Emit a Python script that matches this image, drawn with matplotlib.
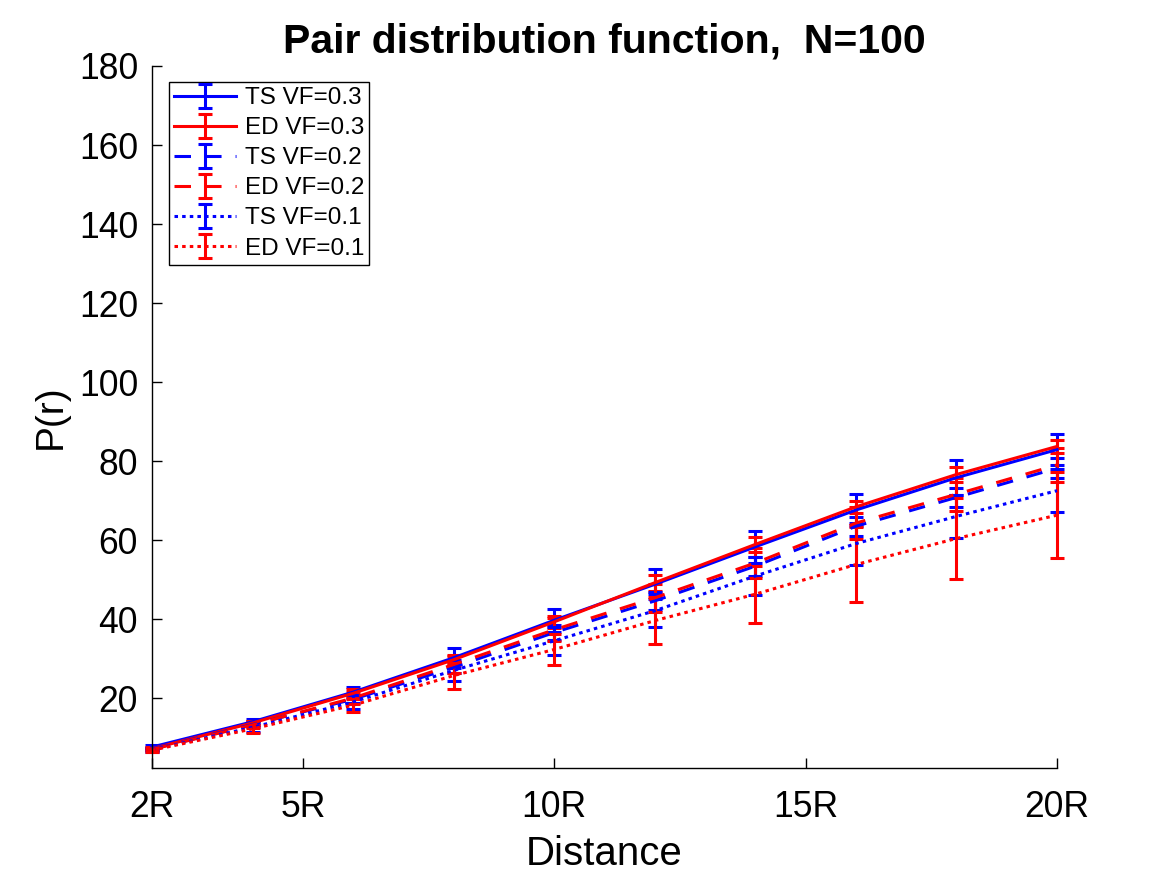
import matplotlib
matplotlib.use("Agg")
import matplotlib.pyplot as plt
import matplotlib.lines as mlines

plt.rcParams['font.family'] = ['Liberation Sans', 'DejaVu Sans']
plt.rcParams['xtick.direction'] = 'in'
plt.rcParams['ytick.direction'] = 'in'

# distance (in units of R) and P(r) per series
distance = [2, 4, 6, 8, 10, 12, 14, 16, 18, 20]
xtick_pos = [2, 5, 10, 15, 20]
xtick_labels = ['2R', '5R', '10R', '15R', '20R']
ytick_pos = [20, 40, 60, 80, 100, 120, 140, 160, 180]

ts_03 = [7.6, 14.0, 21.5, 30.2, 39.7, 48.8, 58.3, 67.6, 75.8, 82.9]
ed_03 = [7.2, 13.7, 21.2, 29.7, 39.3, 49.2, 58.9, 68.4, 76.6, 83.7]
ts_02 = [7.1, 13.3, 19.7, 27.8, 36.6, 44.6, 53.4, 63.5, 70.8, 78.2]
ed_02 = [7.0, 13.2, 20.0, 28.5, 37.3, 45.4, 54.2, 64.3, 71.6, 79.0]
ts_01 = [6.9, 12.6, 19.0, 27.0, 34.5, 42.1, 50.9, 59.1, 66.0, 72.5]
ed_01 = [6.8, 12.2, 18.2, 25.7, 32.3, 39.6, 46.3, 53.8, 60.4, 66.3]

ts_03_err = [0.4, 0.7, 1.4, 2.5, 2.9, 3.8, 4.0, 4.0, 4.5, 4.0]
ed_03_err = [0.3, 0.6, 1.0, 1.3, 1.5, 2.0, 1.8, 1.6, 1.8, 1.7]
ts_02_err = [0.3, 0.6, 1.0, 1.4, 1.8, 2.2, 2.4, 2.4, 2.5, 2.5]
ed_02_err = [0.4, 0.9, 1.5, 2.2, 2.9, 3.5, 3.9, 4.0, 4.2, 4.3]
ts_01_err = [0.5, 1.1, 1.8, 2.7, 3.5, 4.2, 4.8, 5.3, 5.5, 5.5]
ed_01_err = [0.5, 1.0, 1.6, 3.3, 4.0, 6.0, 7.2, 9.5, 10.3, 10.9]

labels = ['TS VF=0.3', 'ED VF=0.3', 'TS VF=0.2', 'ED VF=0.2', 'TS VF=0.1', 'ED VF=0.1']

lw = 2.2
dashed = (0, (5.4, 4.6))
dotted = (0, (1.15, 1.35))

series = [
    (ts_03, ts_03_err, 'blue', '-'),
    (ed_03, ed_03_err, 'red', '-'),
    (ts_02, ts_02_err, 'blue', dashed),
    (ed_02, ed_02_err, 'red', dashed),
    (ts_01, ts_01_err, 'blue', dotted),
    (ed_01, ed_01_err, 'red', dotted),
]

fig = plt.figure(figsize=(11.67, 8.75), dpi=100)
ax = fig.add_axes([152 / 1167, 1 - 768 / 875, 905 / 1167, 702 / 875])

for (vals, errs, col, ls), lab in zip(series, labels):
    cont = ax.errorbar(distance, vals, yerr=errs, color=col, linestyle=ls,
                       linewidth=lw, elinewidth=lw, capsize=4.7, capthick=lw,
                       label=lab)
    for art in cont.get_children():
        art.set_clip_on(False)

ax.set_xlim(2, 20)
ax.set_ylim(2.3, 180)
ax.set_xticks(xtick_pos)
ax.set_xticklabels(xtick_labels)
ax.set_yticks(ytick_pos)

ax.spines['top'].set_visible(False)
ax.spines['right'].set_visible(False)
for s in ('left', 'bottom'):
    ax.spines[s].set_linewidth(1.0)
ax.tick_params(axis='x', direction='in', length=7, width=1.0,
               labelsize=25.6, pad=15.5)
ax.tick_params(axis='y', direction='in', length=7, width=1.0,
               labelsize=25.6, pad=10)

# make sure the tick marks point into the axes
for t in ax.xaxis.get_major_ticks():
    t.tick1line.set_marker(mlines.TICKUP)
for t in ax.yaxis.get_major_ticks():
    t.tick1line.set_marker(mlines.TICKRIGHT)

ax.set_title('Pair distribution function,  N=100', fontsize=29.5,
             fontweight='bold', pad=9.6)
ax.set_xlabel('Distance', fontsize=29)
ax.xaxis.set_label_coords(0.5, -0.096)
ax.set_ylabel('P(r)', fontsize=28)
ax.yaxis.set_label_coords(-0.092, 0.5)

leg = ax.legend(loc='upper left', bbox_to_anchor=(169 / 1167, 1 - 82 / 875),
                bbox_transform=fig.transFigure, borderaxespad=0,
                fontsize=17.5, frameon=True, fancybox=False, framealpha=1,
                edgecolor='black', handlelength=2.55, handletextpad=0.34,
                labelspacing=0.33, borderpad=0.22)
leg.get_frame().set_linewidth(1.0)

fig.savefig('out.png', dpi=100)
